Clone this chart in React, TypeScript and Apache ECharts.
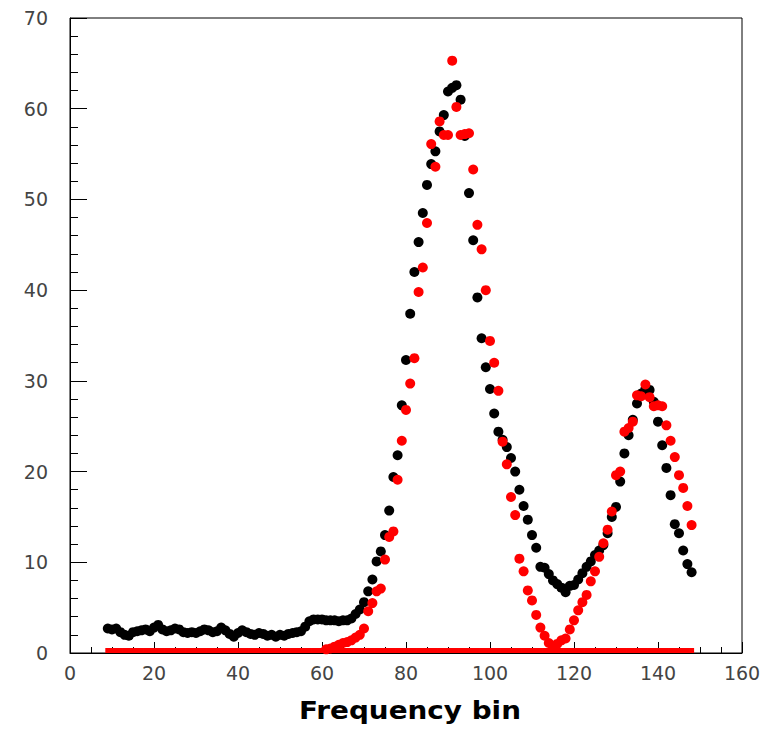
import React, { useEffect, useRef } from "react";
import * as echarts from "echarts";

// First frequency bin of the black series (one value per integer bin)
const BLACK_FIRST_BIN = 9;
const blackValues = [
  2.7, 2.6, 2.7, 2.3, 2.0, 1.9, 2.3, 2.4, 2.5, 2.6,
  2.4, 2.8, 3.1, 2.6, 2.4, 2.5, 2.7, 2.6, 2.3, 2.2,
  2.3, 2.2, 2.4, 2.6, 2.5, 2.3, 2.4, 2.8, 2.5, 2.1,
  1.8, 2.2, 2.5, 2.3, 2.1, 2.0, 2.2, 2.1, 1.9, 2.0,
  1.8, 2.0, 1.9, 2.1, 2.2, 2.3, 2.4, 2.9, 3.5, 3.7,
  3.7, 3.7, 3.6, 3.6, 3.6, 3.5, 3.6, 3.6, 3.8, 4.3,
  4.8, 5.6, 6.8, 8.1, 10.1, 11.2, 13.0, 15.7, 19.4, 21.8,
  27.3, 32.3, 37.4, 42.0, 45.3, 48.5, 51.6, 53.9, 55.3, 57.5,
  59.3, 61.9, 62.3, 62.6, 61.0, 57.0, 50.7, 45.5, 39.2, 34.7,
  31.5, 29.1, 26.4, 24.4, 23.5, 22.7, 21.5, 20.0, 18.0, 16.2,
  14.7, 13.0, 11.6, 9.5, 9.4, 8.7, 8.0, 7.6, 7.2, 6.7,
  7.4, 7.5, 8.1, 8.8, 9.5, 10.1, 10.8, 11.3, 11.9, 13.2,
  15.0, 16.1, 18.9, 22.0, 24.0, 25.7, 27.5, 28.6, 29.1, 29.0,
  27.7, 25.5, 22.9, 20.4, 17.4, 14.2, 13.2, 11.3, 9.8, 8.9,
];

// Red series, first visibly non-zero bin
const RED_FIRST_BIN = 61;
const redValues = [
  0.4, 0.5, 0.7, 0.9, 1.1, 1.2,
  1.4, 1.7, 2.0, 2.7, 4.6, 5.5, 6.8, 7.1, 10.3, 12.8,
  13.4, 19.1, 23.4, 26.8, 29.7, 32.5, 39.8, 42.5, 47.4, 56.1,
  53.6, 58.6, 57.1, 57.1, 65.3, 60.2, 57.1, 57.2, 57.3, 53.3,
  47.2, 44.5, 40.0, 34.4, 32.0, 28.9, 23.3, 20.8, 17.2, 15.2,
  10.4, 9.0, 6.9, 5.8, 4.2, 2.8, 1.9, 1.1, 0.6, 1.0,
  1.4, 1.6, 2.6, 3.6, 4.7, 5.6, 6.4, 7.9, 9.0, 10.6,
  12.1, 13.6, 15.6, 19.6, 20.0, 24.4, 24.8, 25.5, 28.4, 28.3,
  29.6, 28.2, 27.2, 27.3, 27.2, 25.1, 23.4, 21.6, 19.6, 18.2, 16.2, 14.1,
];

// Red zero-level band along the axis (value 0 in every bin)
const RED_ZERO_VALUE = 0;

const X_MIN = 0;
const X_MAX = 160;
const X_INTERVAL = 20;
const Y_MIN = 0;
const Y_MAX = 70;
const Y_INTERVAL = 10;
const X_TITLE = "Frequency bin";

export default function App() {
  const ref = useRef<HTMLDivElement>(null);

  useEffect(() => {
    document.body.style.margin = "0";
    const chart = echarts.init(ref.current!, null, { renderer: "svg" });

    const blackData = blackValues.map((v, i) => [BLACK_FIRST_BIN + i, v]);
    const redData = redValues.map((v, i) => [RED_FIRST_BIN + i, v]);
    const zeroData = blackValues.map((_, i) => [BLACK_FIRST_BIN + i, RED_ZERO_VALUE]);

    const labelStyle = {
      fontFamily: "DejaVu Sans",
      fontSize: 19,
      color: "#444444",
    };

    chart.setOption({
      animation: false,
      backgroundColor: "#ffffff",
      grid: {
        left: 70,
        top: 18,
        width: 672,
        height: 635,
        show: true,
        borderColor: "#000",
        borderWidth: 1,
        backgroundColor: "transparent",
      },
      xAxis: {
        type: "value",
        min: X_MIN,
        max: X_MAX,
        interval: X_INTERVAL,
        axisLine: { show: true, lineStyle: { color: "#000", width: 1 } },
        axisTick: { show: true, inside: true, length: 11, lineStyle: { color: "#000" } },
        minorTick: { show: true, splitNumber: 4, length: 6, lineStyle: { color: "#000" } },
        splitLine: { show: false },
        axisLabel: { ...labelStyle, margin: 10 },
      },
      yAxis: {
        type: "value",
        min: Y_MIN,
        max: Y_MAX,
        interval: Y_INTERVAL,
        axisLine: { show: true, lineStyle: { color: "#000", width: 1 } },
        axisTick: { show: true, inside: true, length: 17, lineStyle: { color: "#000" } },
        minorTick: { show: true, splitNumber: 5, length: 8, lineStyle: { color: "#000" } },
        splitLine: { show: false },
        axisLabel: { ...labelStyle, margin: 22 },
      },
      graphic: [
        {
          type: "text",
          x: 410,
          y: 711,
          scaleX: 1.16,
          style: {
            text: X_TITLE,
            fontFamily: "DejaVu Sans",
            fontSize: 24,
            fontWeight: "bold",
            fill: "#000",
            align: "center",
            verticalAlign: "middle",
          },
        },
      ],
      series: [
        {
          name: "zero",
          type: "scatter",
          data: zeroData,
          symbol: "rect",
          symbolSize: [5, 5],
          symbolOffset: [0, -2.5],
          itemStyle: { color: "#ff0000", opacity: 1 },
          z: 1,
        },
        {
          name: "black",
          type: "scatter",
          data: blackData,
          symbol: "circle",
          symbolSize: 10,
          itemStyle: { color: "#000000", opacity: 1 },
          z: 2,
        },
        {
          name: "red",
          type: "scatter",
          data: redData,
          symbol: "circle",
          symbolSize: 10,
          itemStyle: { color: "#ff0000", opacity: 1 },
          z: 3,
        },
      ],
    });

    return () => chart.dispose();
  }, []);

  return <div ref={ref} style={{ width: 777, height: 729 }} />;
}
